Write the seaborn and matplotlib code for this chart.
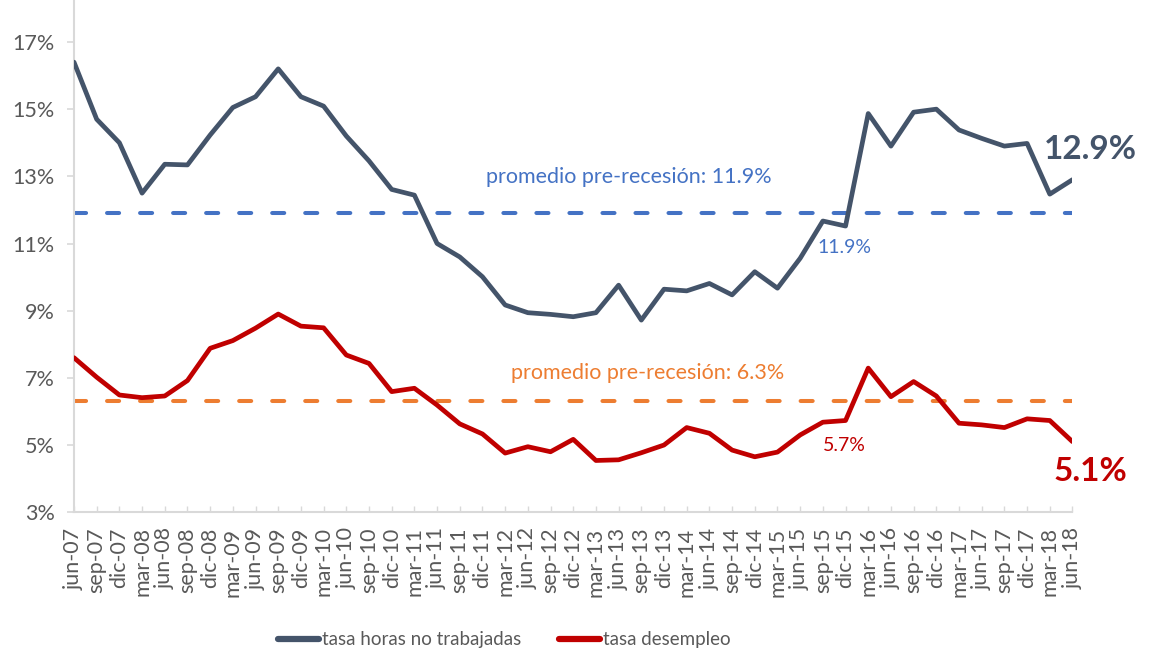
import numpy as np
import pandas as pd
import matplotlib
matplotlib.use('agg')
import matplotlib.pyplot as plt
import seaborn as sns

# quarterly labels jun-07 .. jun-18
periodos = ["jun-07", "sep-07", "dic-07",
            "mar-08", "jun-08", "sep-08", "dic-08",
            "mar-09", "jun-09", "sep-09", "dic-09",
            "mar-10", "jun-10", "sep-10", "dic-10",
            "mar-11", "jun-11", "sep-11", "dic-11",
            "mar-12", "jun-12", "sep-12", "dic-12",
            "mar-13", "jun-13", "sep-13", "dic-13",
            "mar-14", "jun-14", "sep-14", "dic-14",
            "mar-15", "jun-15", "sep-15", "dic-15",
            "mar-16", "jun-16", "sep-16", "dic-16",
            "mar-17", "jun-17", "sep-17", "dic-17",
            "mar-18", "jun-18"]

horas_no_trab = [16.4, 14.7, 14.0, 12.5, 13.36, 13.34, 14.23, 15.05, 15.37, 16.2,
                 15.37, 15.09, 14.2, 13.46, 12.61, 12.44, 11.0, 10.6, 10.01, 9.17,
                 8.94, 8.89, 8.82, 8.94, 9.76, 8.72, 9.64, 9.59, 9.81, 9.47,
                 10.16, 9.67, 10.56, 11.67, 11.52, 14.87, 13.9, 14.91, 15.0, 14.38,
                 14.13, 13.9, 13.98, 12.47, 12.9]

desempleo = [7.6, 7.02, 6.49, 6.41, 6.46, 6.92, 7.88, 8.11, 8.48, 8.9,
             8.54, 8.49, 7.68, 7.43, 6.59, 6.69, 6.19, 5.63, 5.33, 4.76,
             4.95, 4.8, 5.17, 4.54, 4.56, 4.77, 5.0, 5.52, 5.35, 4.85,
             4.65, 4.79, 5.3, 5.68, 5.73, 7.29, 6.44, 6.89, 6.46, 5.65,
             5.6, 5.52, 5.78, 5.73, 5.1]

prom_horas = 11.9
prom_desempleo = 6.3

serie_names = ["tasa horas no trabajadas", "tasa desempleo"]
colores = ["#44546A", "#C00000"]

sns.set_style("white")
plt.rcParams['font.family'] = ['Lato', 'DejaVu Sans']

n = len(periodos)
df = pd.DataFrame({
    "idx": list(range(n)) * 2,
    "valor": horas_no_trab + desempleo,
    "serie": [serie_names[0]] * n + [serie_names[1]] * n,
})

fig = plt.figure(figsize=(11.49, 6.55), dpi=100)
ax = fig.add_axes([0.0644, 0.218, 0.869, 0.782])

ax.axhline(prom_horas, color="#4472C4", lw=2.9, dashes=(3, 5.2), dash_capstyle="round", zorder=1)
ax.axhline(prom_desempleo, color="#ED7D31", lw=2.9, dashes=(3, 5.2), dash_capstyle="round", zorder=1)

sns.lineplot(data=df, x="idx", y="valor", hue="serie", palette=colores,
             linewidth=3.4, ax=ax, zorder=3)
for l in ax.lines:
    l.set_solid_capstyle("round")
    l.set_solid_joinstyle("round")

ax.set_xlim(0, n - 1)
ax.set_ylim(3, 18.25)
ax.set_yticks(np.arange(3, 18, 2))
ax.set_yticklabels(["%d%%" % v for v in np.arange(3, 18, 2)])
ax.set_xticks(range(n))
ax.set_xticklabels(periodos, rotation=90)
ax.set_xlabel("")
ax.set_ylabel("")

for s in ["top", "right"]:
    ax.spines[s].set_visible(False)
for s in ["left", "bottom"]:
    ax.spines[s].set_color("#D9D9D9")
    ax.spines[s].set_linewidth(1.5)

ax.tick_params(axis="y", length=5, width=1.2, color="#D9D9D9", direction="out",
               labelsize=15.5, labelcolor="#595959", pad=9)
ax.tick_params(axis="x", length=4, width=1.0, color="#D9D9D9", direction="in",
               labelsize=15.5, labelcolor="#595959", pad=11)
ax.tick_params(left=True, bottom=True)

# annotations
ax.text(24.47, 12.98, "promedio pre-recesión: 11.9%", color="#4472C4", fontsize=15.5,
        ha="center", va="center")
ax.text(25.26, 7.13, "promedio pre-recesión: 6.3%", color="#ED7D31", fontsize=15.5,
        ha="center", va="center")
ax.text(33.96, 10.87, "11.9%", color="#4472C4", fontsize=14, ha="center", va="center")
ax.text(33.96, 5.0, "5.7%", color="#C00000", fontsize=14, ha="center", va="center")
ax.text(44.8, 13.8, "12.9%", color="#44546A", fontsize=24, fontweight="bold",
        ha="center", va="center", clip_on=False)
ax.text(44.8, 4.2, "5.1%", color="#C00000", fontsize=24, fontweight="bold",
        ha="center", va="center", clip_on=False)

leg = ax.legend(loc="center", bbox_to_anchor=(0.431, -0.249), ncol=2, frameon=False,
                fontsize=13.5, handlelength=2.2, handletextpad=0.15, columnspacing=2.0)
for t in leg.get_texts():
    t.set_color("#595959")
for h in leg.get_lines():
    h.set_linewidth(4.5)
    h.set_solid_capstyle("round")

fig.savefig("out.png", dpi=100)
